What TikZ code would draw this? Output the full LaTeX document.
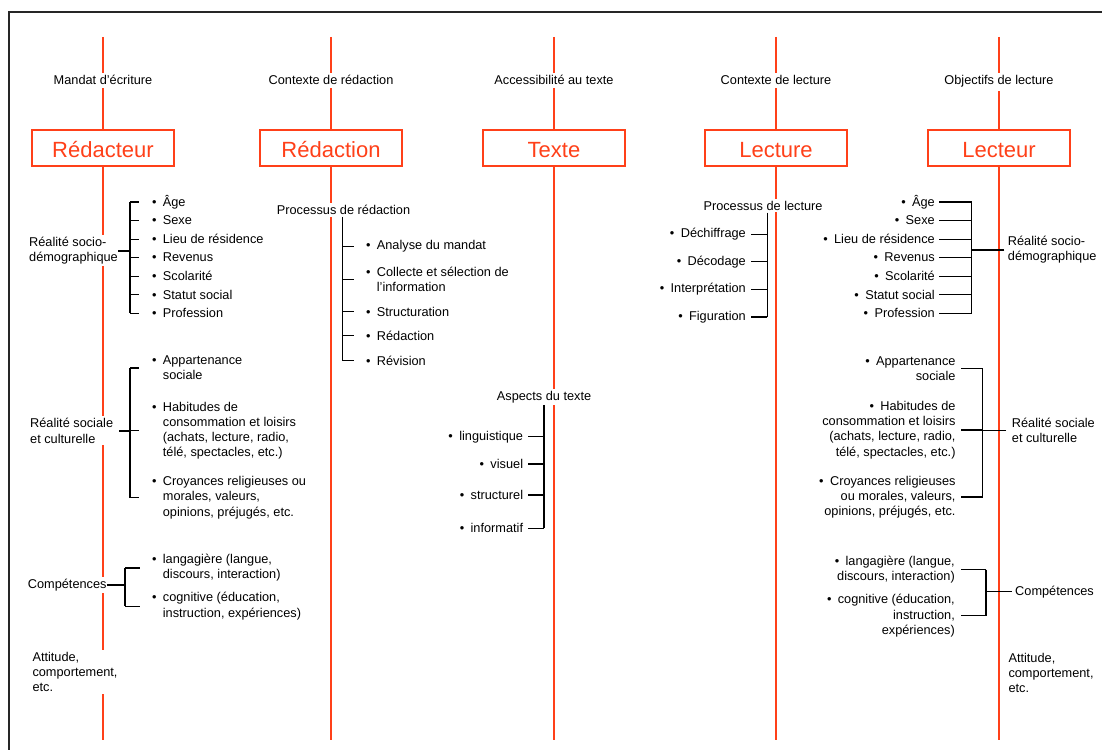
\documentclass[tikz,border=0pt]{standalone}
\usepackage{fontspec}
\setmainfont{Liberation Sans}
\definecolor{rouge}{RGB}{255,64,25}
\newcommand{\puce}{\textbullet\hspace{6.4pt}}
\newcommand{\lpuce}{\llap{\puce}}
\begin{document}
\begin{tikzpicture}[x=1pt,y=-1pt,
  txt/.style={inner xsep=0pt,inner ysep=2pt,fill=white,font=\fontsize{12.75}{15.2}\selectfont},
  lt/.style={txt,anchor=west,align=left},
  rt/.style={txt,anchor=east,align=right},
  pole/.style={draw=rouge,line width=1.3pt,fill=white,minimum width=142pt,minimum height=36pt,
    inner sep=0pt,text height=18.5pt,text depth=0pt,text=rouge,font=\fontsize{22}{26}\selectfont},
  axe/.style={draw=rouge,line width=1.5pt},
  brace/.style={line width=1.2pt},
  lien/.style={line width=2.4pt}]

\useasboundingbox (0,0) rectangle (1102,749);
\clip (0,0) rectangle (1102,749);
% outline
\draw[line width=1.5pt,black!85] (9,12) rectangle (1120,770);

% axes
\foreach \xx/\nm/\hd/\pl in {103/a/Mandat d’écriture/Rédacteur, 331/b/Contexte de rédaction/Rédaction,
    554/c/Accessibilité au texte/Texte, 776/d/Contexte de lecture/Lecture, 999/e/Objectifs de lecture/Lecteur}{
  \draw[axe] (\xx,37) -- (\xx,740);
  \node[txt,anchor=base,inner ysep=3pt] (h\nm) at (\xx,85) {\hd};
  \node[pole] (p\nm) at (\xx,148) {\pl};
}

% Redacteur
\coordinate (sa1) at (130,0);
\foreach \lab [count=\i from 0] in {Âge,Sexe,Lieu de résidence,Revenus,Scolarité,Statut social,Profession}{
  \node[lt] (ga\i) at (162.7,202+18.55*\i) {\lpuce\lab};
  \draw[brace] (sa1 |- ga\i) -- ++(9,0);
}
\node[lt] (la1) at (29,250.8) {Réalité socio-\\démographique};
\draw[brace] (sa1 |- ga0) -- (sa1 |- ga6);
\draw[lien] (la1.east) -- (la1.east -| sa1);

\coordinate (sb1) at (130,0);
\node[lt] (gb1) at (162.7,368) {\lpuce Appartenance\\sociale};
\node[lt] (gb2) at (162.7,430.5) {\lpuce Habitudes de\\consommation et loisirs\\(achats, lecture, radio,\\télé, spectacles, etc.)};
\node[lt] (gb3) at (162.7,497.5) {\lpuce Croyances religieuses ou\\morales, valeurs,\\opinions, préjugés, etc.};
\node[lt] (lb1) at (30,430.8) {Réalité sociale\\et culturelle};
\foreach \i in {1,2,3} \draw[brace] (sb1 |- gb\i) -- ++(9,0);
\draw[brace] (sb1 |- gb1) -- (sb1 |- gb3);
\draw[lien] ([xshift=6pt]lb1.east) -- (lb1.east -| sb1);

\coordinate (sc1) at (125,0);
\node[lt] (lc1) at (27.7,585) {Compétences};
\node[lt] (gc1) at (162.7,567.9) {\lpuce langagière (langue,\\discours, interaction)};
\node[lt] (gc2) at (162.7,606.2) {\lpuce cognitive (éducation,\\instruction, expériences)};
\foreach \i in {1,2} \draw[brace] (sc1 |- gc\i) -- ++(15,0);
\draw[brace] (sc1 |- gc1) -- (sc1 |- gc2);
\draw[brace] (lc1.east) -- (lc1.east -| sc1);

\node[lt] (ld1) at (32.3,672) {Attitude,\\comportement,\\etc.};

% Redaction
\coordinate (sr) at (342.7,0);
\node[lt] (pr1) at (276.7,210) {Processus de rédaction};
\foreach \lab/\yy [count=\i] in {Analyse du mandat/246.7, Collecte et sélection de\\l’information/279.2,
    Structuration/311.7, Rédaction/335.7, Révision/360.7}{
  \node[lt] (gr\i) at (376.7,\yy) {\lpuce\lab};
  \draw[brace] (sr |- gr\i) -- ++(11.3,0);
}
\draw[brace] (pr1.south -| sr) -- (sr |- gr5);

% Texte
\coordinate (st) at (544,0);
\node[lt] (pt1) at (496.7,396.7) {Aspects du texte};
\foreach \lab/\yy [count=\i] in {linguistique/436.7, visuel/464, structurel/495, informatif/528.3}{
  \node[rt] (gt\i) at (523.3,\yy) {\puce\lab};
  \draw[brace] (st |- gt\i) -- ++(-16.3,0);
}
\draw[brace] (pt1.south -| st) -- (st |- gt4);

% Lecture
\coordinate (sl) at (767.3,0);
\node[lt] (pl1) at (703.3,205.7) {Processus de lecture};
\foreach \lab/\yy [count=\i] in {Déchiffrage/234.3, Décodage/261.7, Interprétation/289.3, Figuration/317}{
  \node[rt] (gl\i) at (746,\yy) {\puce\lab};
  \draw[brace] (sl |- gl\i) -- ++(-16.3,0);
}
\draw[brace] (pl1.south -| sl) -- (sl |- gl4);

% Lecteur
\coordinate (se1) at (971.7,0);
\foreach \lab [count=\i from 0] in {Âge,Sexe,Lieu de résidence,Revenus,Scolarité,Statut social,Profession}{
  \node[rt] (ge\i) at (935,202+18.55*\i) {\puce\lab};
  \draw[brace] (se1 |- ge\i) -- ++(-32.4,0);
}
\node[lt] (le1) at (1007.7,250) {Réalité socio-\\démographique};
\draw[brace] (se1 |- ge0) -- (se1 |- ge6);
\draw[lien] ([xshift=-3.4pt]le1.west) -- (le1.west -| se1);

\coordinate (sf1) at (982.7,0);
\node[rt] (gf1) at (955.7,368.8) {\puce Appartenance\\sociale};
\node[rt] (gf2) at (955.7,430) {\puce Habitudes de\\consommation et loisirs\\(achats, lecture, radio,\\télé, spectacles, etc.)};
\node[rt] (gf3) at (955.7,497) {\puce Croyances religieuses\\ou morales, valeurs,\\opinions, préjugés, etc.};
\node[lt] (lf1) at (1011.7,430.2) {Réalité sociale\\et culturelle};
\foreach \i in {1,2,3} \draw[brace] (sf1 |- gf\i) -- ++(-21.7,0);
\draw[brace] (sf1 |- gf1) -- (sf1 |- gf3);
\draw[brace] ([xshift=-5.7pt]lf1.west) -- (lf1.west -| sf1);

\coordinate (sg1) at (986,0);
\node[rt] (gg1) at (955,569.5) {\puce langagière (langue,\\discours, interaction)};
\node[rt] (gg2) at (955,615.7) {\puce cognitive (éducation,\\instruction,\\expériences)};
\node[lt] (lg1) at (1015,591.7) {Compétences};
\foreach \i in {1,2} \draw[brace] (sg1 |- gg\i) -- ++(-25,0);
\draw[brace] (sg1 |- gg1) -- (sg1 |- gg2);
\draw[brace] ([xshift=-3.3pt]lg1.west) -- (lg1.west -| sg1);

\node[lt] (lh1) at (1008.3,673) {Attitude,\\comportement,\\etc.};
\end{tikzpicture}
\end{document}
